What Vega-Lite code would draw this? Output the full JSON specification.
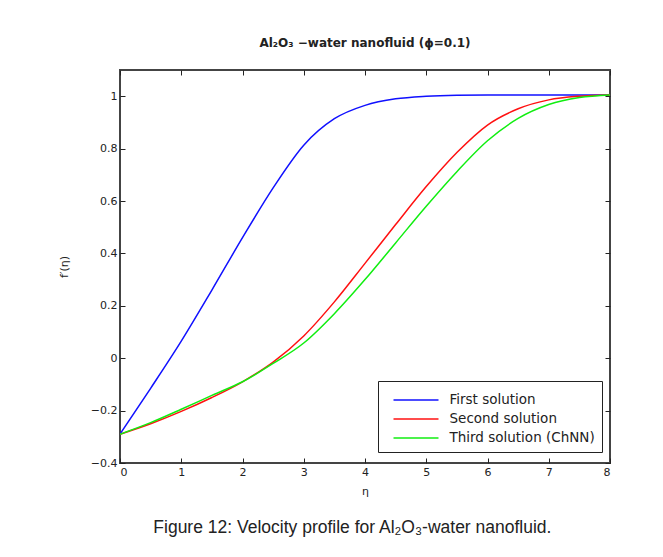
{
  "$schema": "https://vega.github.io/schema/vega-lite/v6.json",
  "background": "white",
  "padding": {"left": 57, "top": 35, "right": 50, "bottom": 10},
  "title": {"text": "Figure 12: Velocity profile for Al₂O₃-water nanofluid.", "orient": "bottom", "fontSize": 17.5, "font": "Liberation Sans", "fontWeight": "normal", "offset": 22, "anchor": "middle", "dx": 18, "color": "#222"},
  "vconcat": [
    {
      "width": 490,
      "height": 393,
      "title": {"text": "Al₂O₃ −water nanofluid (ϕ=0.1)", "fontSize": 12, "fontWeight": "bold", "font": "DejaVu Sans", "offset": 20, "color": "#222"},
      "data": {
        "values": [
          {"eta": 0, "f": -0.29, "series": "First solution"},
          {"eta": 0.5, "f": -0.115, "series": "First solution"},
          {"eta": 1, "f": 0.065, "series": "First solution"},
          {"eta": 1.5, "f": 0.26, "series": "First solution"},
          {"eta": 2, "f": 0.46, "series": "First solution"},
          {"eta": 2.5, "f": 0.65, "series": "First solution"},
          {"eta": 3, "f": 0.813, "series": "First solution"},
          {"eta": 3.5, "f": 0.914, "series": "First solution"},
          {"eta": 4, "f": 0.965, "series": "First solution"},
          {"eta": 4.5, "f": 0.99, "series": "First solution"},
          {"eta": 5, "f": 1.0, "series": "First solution"},
          {"eta": 5.5, "f": 1.004, "series": "First solution"},
          {"eta": 6, "f": 1.005, "series": "First solution"},
          {"eta": 6.5, "f": 1.005, "series": "First solution"},
          {"eta": 7, "f": 1.005, "series": "First solution"},
          {"eta": 7.5, "f": 1.005, "series": "First solution"},
          {"eta": 8, "f": 1.005, "series": "First solution"},
          {"eta": 0, "f": -0.29, "series": "Second solution"},
          {"eta": 0.5, "f": -0.25, "series": "Second solution"},
          {"eta": 1, "f": -0.203, "series": "Second solution"},
          {"eta": 1.5, "f": -0.15, "series": "Second solution"},
          {"eta": 2, "f": -0.09, "series": "Second solution"},
          {"eta": 2.5, "f": -0.015, "series": "Second solution"},
          {"eta": 3, "f": 0.085, "series": "Second solution"},
          {"eta": 3.5, "f": 0.215, "series": "Second solution"},
          {"eta": 4, "f": 0.362, "series": "Second solution"},
          {"eta": 4.5, "f": 0.51, "series": "Second solution"},
          {"eta": 5, "f": 0.655, "series": "Second solution"},
          {"eta": 5.5, "f": 0.785, "series": "Second solution"},
          {"eta": 6, "f": 0.89, "series": "Second solution"},
          {"eta": 6.5, "f": 0.952, "series": "Second solution"},
          {"eta": 7, "f": 0.986, "series": "Second solution"},
          {"eta": 7.5, "f": 1.0, "series": "Second solution"},
          {"eta": 8, "f": 1.005, "series": "Second solution"},
          {"eta": 0, "f": -0.29, "series": "Third solution (ChNN)"},
          {"eta": 0.5, "f": -0.246, "series": "Third solution (ChNN)"},
          {"eta": 1, "f": -0.195, "series": "Third solution (ChNN)"},
          {"eta": 1.5, "f": -0.142, "series": "Third solution (ChNN)"},
          {"eta": 2, "f": -0.09, "series": "Third solution (ChNN)"},
          {"eta": 2.5, "f": -0.02, "series": "Third solution (ChNN)"},
          {"eta": 3, "f": 0.058, "series": "Third solution (ChNN)"},
          {"eta": 3.5, "f": 0.17, "series": "Third solution (ChNN)"},
          {"eta": 4, "f": 0.3, "series": "Third solution (ChNN)"},
          {"eta": 4.5, "f": 0.44, "series": "Third solution (ChNN)"},
          {"eta": 5, "f": 0.58, "series": "Third solution (ChNN)"},
          {"eta": 5.5, "f": 0.712, "series": "Third solution (ChNN)"},
          {"eta": 6, "f": 0.83, "series": "Third solution (ChNN)"},
          {"eta": 6.5, "f": 0.915, "series": "Third solution (ChNN)"},
          {"eta": 7, "f": 0.968, "series": "Third solution (ChNN)"},
          {"eta": 7.5, "f": 0.995, "series": "Third solution (ChNN)"},
          {"eta": 8, "f": 1.005, "series": "Third solution (ChNN)"}
        ]
      },
      "layer": [
        {
          "mark": {"type": "line", "strokeWidth": 1.5, "interpolate": "monotone", "clip": true},
          "encoding": {
            "x": {"field": "eta", "type": "quantitative", "title": "η", "scale": {"domain": [0, 8], "nice": false}, "axis": {"orient": "bottom", "values": [0, 1, 2, 3, 4, 5, 6, 7, 8], "titlePadding": 8}},
            "y": {"field": "f", "type": "quantitative", "title": "f′(η)", "scale": {"domain": [-0.4, 1.1], "nice": false, "zero": false}, "axis": {"orient": "left", "values": [-0.4, -0.2, 0, 0.2, 0.4, 0.6, 0.8, 1], "format": ".1~f", "titlePadding": 21}},
            "color": {
              "field": "series", "type": "nominal",
              "scale": {"domain": ["First solution", "Second solution", "Third solution (ChNN)"], "range": ["#1010ff", "#ff1010", "#10ee10"]},
              "legend": {"orient": "none", "legendX": 258, "legendY": 311, "title": null, "strokeColor": "#222", "fillColor": "white", "padding": 7, "symbolType": "M-2,0H2", "symbolSize": 506, "symbolStrokeWidth": 1.5, "symbolOffset": 19, "labelFontSize": 13.5, "labelFont": "DejaVu Sans", "labelColor": "#222", "labelOffset": 21.5, "rowPadding": 0, "labelLimit": 300}
            }
          }
        },
        {
          "mark": {"type": "line", "opacity": 0},
          "encoding": {
            "x": {"field": "eta", "type": "quantitative", "axis": {"orient": "top", "values": [0, 1, 2, 3, 4, 5, 6, 7, 8], "labels": false, "title": null}},
            "y": {"field": "f", "type": "quantitative", "axis": {"orient": "right", "values": [-0.4, -0.2, 0, 0.2, 0.4, 0.6, 0.8, 1], "labels": false, "title": null}},
            "detail": {"field": "series"}
          }
        }
      ],
      "resolve": {"axis": {"x": "independent", "y": "independent"}}
    }
  ],
  "config": {
    "view": {"stroke": "#444", "strokeWidth": 2},
    "axis": {"grid": false, "domain": false, "tickSize": -5, "tickColor": "#222", "labelPadding": 8, "labelFont": "DejaVu Sans", "labelFontSize": 11, "labelColor": "#222", "titleFont": "DejaVu Sans", "titleFontSize": 11, "titleFontWeight": "normal", "titleColor": "#222"}
  }
}
